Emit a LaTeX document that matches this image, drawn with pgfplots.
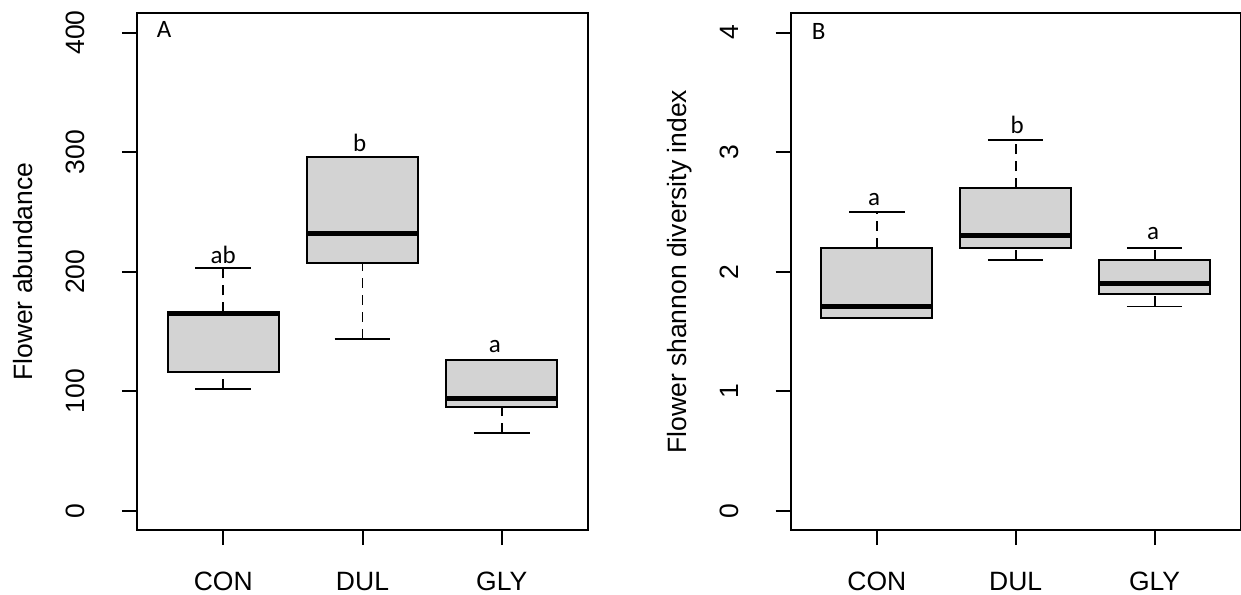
\documentclass[border=0pt]{standalone}
\usepackage{pgfplots}
\pgfplotsset{compat=1.18}
\usepackage{fontspec}
\setmainfont{Liberation Sans}
\newfontfamily\carlito{Carlito}

\definecolor{boxgray}{RGB}{211,211,211}

\tikzset{
  letter/.style={font=\carlito\fontsize{12.5}{14}\selectfont, anchor=base, inner sep=0pt},
}

% 1 px of the reference = 0.5pt
\pgfplotsset{
  rpanel/.style={
    scale only axis,
    height=258.25pt,
    xmin=0.38, xmax=3.62,
    xtick={1,2,3}, xticklabels={CON,DUL,GLY},
    tick align=outside,
    xtick pos=bottom, ytick pos=left,
    major tick length=7.5pt,
    axis line style={line width=1pt},
    every tick/.style={black, line width=1pt},
    /pgf/number format/assume math mode=true,
    tick label style={font=\fontsize{13.25}{15}\selectfont, inner sep=0pt},
    xticklabel style={anchor=base},
    xticklabel shift=22.5pt,
    yticklabel style={rotate=90, anchor=south},
    yticklabel shift=18.5pt,
    ylabel style={at={(rel axis cs:0,0.5)}, anchor=base, inner sep=0pt,
      yshift=52pt, font=\fontsize{13.25}{15}\selectfont},
    unbounded coords=jump,
    clip=false,
  },
  whisk/.style={black, line width=0.9pt, dash pattern=on 5pt off 3.5pt, mark=none},
  staple/.style={black, line width=0.9pt, mark=none},
  rbox/.style={fill=boxgray, draw=black, line width=1pt, mark=none},
  med/.style={black, line width=2.4pt, mark=none},
}

\begin{document}
\begin{tikzpicture}
\useasboundingbox (0,0) rectangle (620.5pt,-297pt);

% panel A: flower abundance
\begin{axis}[rpanel,
  at={(68.5pt,-265pt)}, anchor=south west,
  width=225.5pt,
  ymin=-16, ymax=416,
  ytick={0,100,200,300,400},
  ylabel={Flower abundance},
]
% whiskers (CON, DUL, GLY)
\addplot[whisk] coordinates {(1,102) (1,116) (1,nan) (1,166) (1,203) (2,nan)
  (2,144) (2,207) (3,nan) (3,65) (3,87)};
\addplot[staple] coordinates {(0.8,102) (1.2,102) (1,nan) (0.8,203) (1.2,203) (2,nan)
  (1.8,144) (2.2,144) (2,nan) (1.8,296) (2.2,296) (3,nan)
  (2.8,65) (3.2,65) (3,nan) (2.8,126) (3.2,126)};
% boxes: lower / upper quartile
\addplot[rbox] coordinates {(0.6,116) (1.4,116) (1.4,166) (0.6,166)} -- cycle;
\addplot[rbox] coordinates {(1.6,207) (2.4,207) (2.4,296) (1.6,296)} -- cycle;
\addplot[rbox] coordinates {(2.6,87) (3.4,87) (3.4,126) (2.6,126)} -- cycle;
% medians
\addplot[med] coordinates {(0.6,165) (1.4,165) (1,nan) (1.6,232) (2.4,232) (2,nan)
  (2.6,94) (3.4,94)};
\node[letter] at (axis cs:1,206.7) {ab};
\node[letter] at (axis cs:1.98,300.3) {b};
\node[letter] at (axis cs:2.95,132.8) {a};
\node[letter, anchor=base west] at (axis cs:0.52,396) {A};
\end{axis}

% panel B: Shannon diversity
\begin{axis}[rpanel,
  at={(395.35pt,-265pt)}, anchor=south west,
  width=225pt,
  ymin=-0.16, ymax=4.16,
  ytick={0,1,2,3,4},
  ylabel={Flower shannon diversity index},
]
\addplot[whisk] coordinates {(1,2.2) (1,2.5) (2,nan) (2,2.1) (2,2.2) (2,nan)
  (2,2.7) (2,3.1) (3,nan) (3,1.71) (3,1.81) (3,nan) (3,2.1) (3,2.2)};
\addplot[staple] coordinates {(0.8,1.61) (1.2,1.61) (1,nan) (0.8,2.5) (1.2,2.5) (2,nan)
  (1.8,2.1) (2.2,2.1) (2,nan) (1.8,3.1) (2.2,3.1) (3,nan)
  (2.8,1.71) (3.2,1.71) (3,nan) (2.8,2.2) (3.2,2.2)};
\addplot[rbox] coordinates {(0.6,1.61) (1.4,1.61) (1.4,2.2) (0.6,2.2)} -- cycle;
\addplot[rbox] coordinates {(1.6,2.2) (2.4,2.2) (2.4,2.7) (1.6,2.7)} -- cycle;
\addplot[rbox] coordinates {(2.6,1.81) (3.4,1.81) (3.4,2.1) (2.6,2.1)} -- cycle;
\addplot[med] coordinates {(0.6,1.71) (1.4,1.71) (1,nan) (1.6,2.3) (2.4,2.3) (2,nan)
  (2.6,1.9) (3.4,1.9)};
\node[letter] at (axis cs:0.98,2.55) {a};
\node[letter] at (axis cs:2.01,3.156) {b};
\node[letter] at (axis cs:2.99,2.27) {a};
\node[letter, anchor=base west] at (axis cs:0.53,3.94) {B};
\end{axis}
\end{tikzpicture}
\end{document}
